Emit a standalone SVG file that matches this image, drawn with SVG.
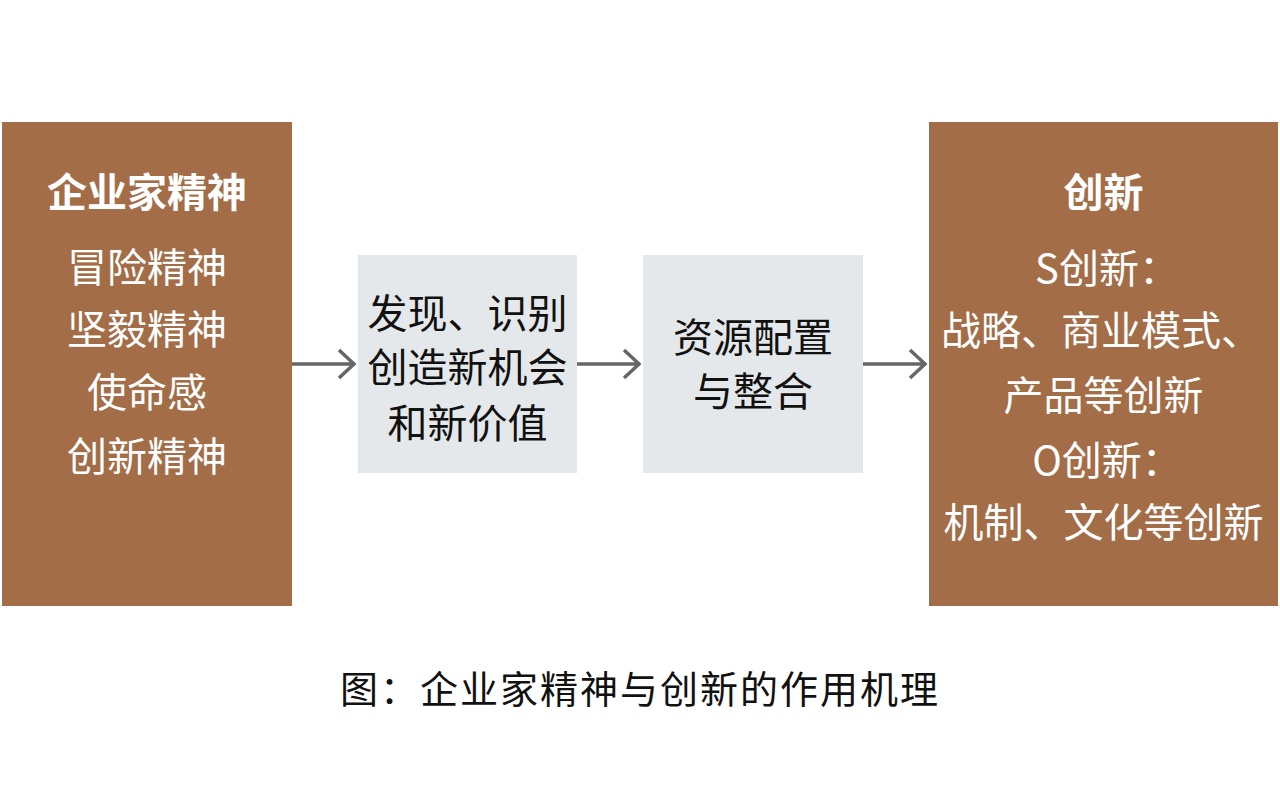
<svg xmlns="http://www.w3.org/2000/svg" width="1280" height="810" viewBox="0 0 1280 810">
<defs>
<style>
.brown{fill:#A36D47}
.grey{fill:#E5E8EB}
text{font-family:"Noto Sans CJK SC","Noto Sans",sans-serif;font-size:40px;text-anchor:middle}
.w{fill:#FFFFFF}
.b{fill:#111111}
.bold{font-weight:700}
.conn{stroke:#666666;stroke-width:3.5;fill:none}
</style>
<marker id="arr" viewBox="0 0 20 32" refX="18" refY="16" markerWidth="20" markerHeight="32" markerUnits="userSpaceOnUse" orient="auto">
<path d="M2,2 L17,16 L2,30" fill="none" stroke="#666666" stroke-width="3.5"/>
</marker>
</defs>
<rect width="1280" height="810" fill="#FFFFFF"/>
<g id="node-spirit">
<rect class="brown" x="2" y="122" width="290" height="484"/>
<text class="w bold" x="147" y="207">企业家精神</text>
<text class="w" x="147" y="282">冒险精神</text>
<text class="w" x="147" y="344">坚毅精神</text>
<text class="w" x="147" y="407">使命感</text>
<text class="w" x="147" y="471">创新精神</text>
</g>
<g id="node-opportunity">
<rect class="grey" x="358" y="255" width="219" height="218"/>
<text class="b" x="467.5" y="328">发现、识别</text>
<text class="b" x="467.5" y="382">创造新机会</text>
<text class="b" x="467.5" y="438">和新价值</text>
</g>
<g id="node-resource">
<rect class="grey" x="643" y="255" width="220" height="218"/>
<text class="b" x="753" y="352">资源配置</text>
<text class="b" x="753" y="406">与整合</text>
</g>
<g id="node-innovation">
<rect class="brown" x="929" y="122" width="349" height="484"/>
<text class="w bold" x="1103.5" y="207">创新</text>
<text class="w" x="1107" y="283">S创新：</text>
<text class="w" x="1101" y="345">战略、商业模式、</text>
<text class="w" x="1103.5" y="410">产品等创新</text>
<text class="w" x="1107" y="475">O创新：</text>
<text class="w" x="1103.5" y="537">机制、文化等创新</text>
</g>
<g id="connectors">
<line class="conn" x1="292" y1="364" x2="355" y2="364" marker-end="url(#arr)"/>
<line class="conn" x1="577" y1="364" x2="640" y2="364" marker-end="url(#arr)"/>
<line class="conn" x1="863" y1="364" x2="926" y2="364" marker-end="url(#arr)"/>
</g>
<text class="b" x="640" y="703" style="font-size:38px;letter-spacing:2px">图：企业家精神与创新的作用机理</text>
</svg>
